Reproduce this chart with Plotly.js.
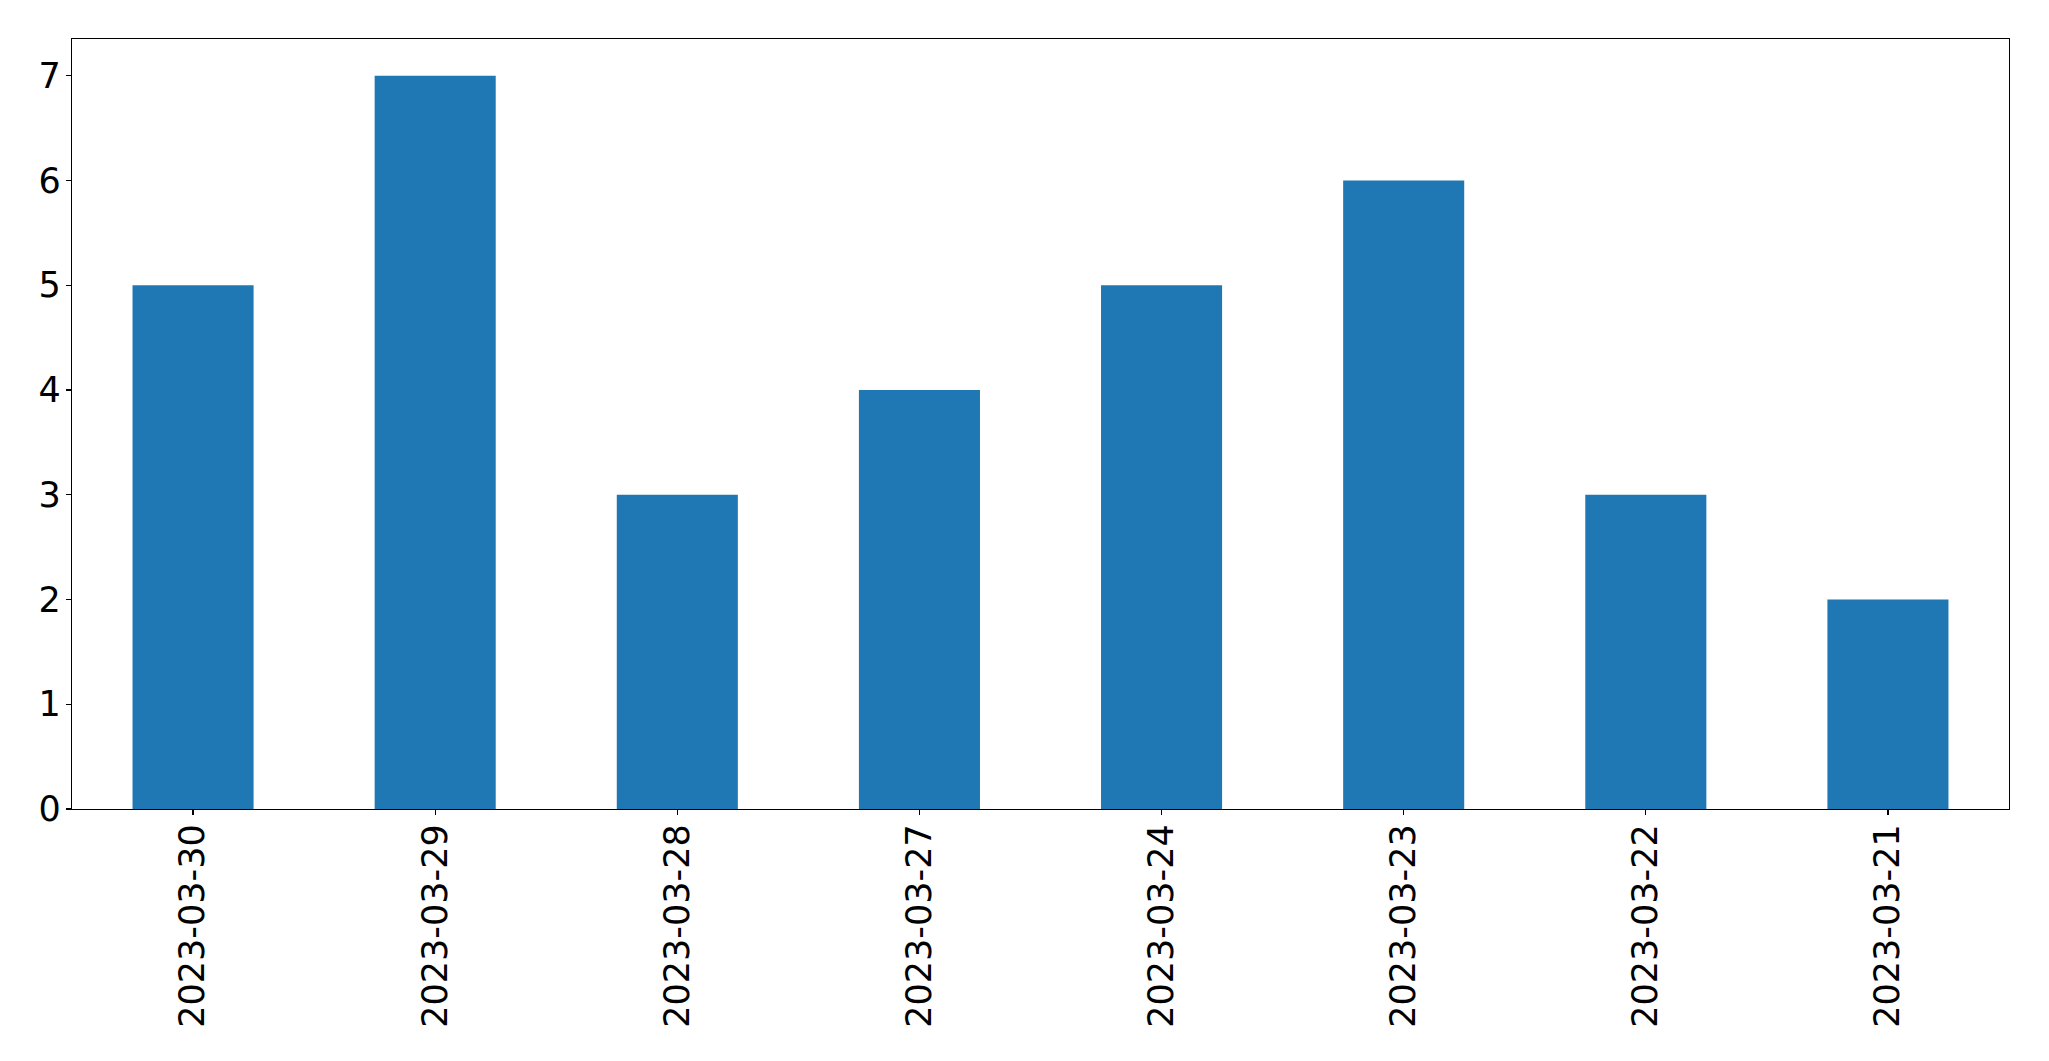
<!DOCTYPE html>
<html>
<head>
<meta charset="utf-8">
<script src="https://cdn.plot.ly/plotly-3.0.1.min.js"></script>
<style>html,body{margin:0;padding:0;background:#fff;}#chart{width:2049px;height:1061px;}</style>
</head>
<body>
<div id="chart"></div>
<script>
const categories = ["2023-03-30","2023-03-29","2023-03-28","2023-03-27","2023-03-24","2023-03-23","2023-03-22","2023-03-21"];
const values = [5, 7, 3, 4, 5, 6, 3, 2];
const yTicks = [0,1,2,3,4,5,6,7];

const trace = {
  type: 'bar',
  x: categories,
  y: values,
  marker: {color: '#1f77b4', line: {width: 0}},
  hoverinfo: 'x+y'
};

const font = {family: 'DejaVu Sans, sans-serif', size: 35, color: '#000'};

const layout = {
  width: 2049,
  height: 1061,
  margin: {l: 72, r: 40, t: 39, b: 252, pad: 0},
  paper_bgcolor: '#fff',
  plot_bgcolor: '#fff',
  showlegend: false,
  bargap: 0.5,
  font: font,
  xaxis: {
    type: 'category',
    range: [-0.5, 7.5],
    tickangle: -90,
    ticks: 'outside',
    ticklen: 5,
    tickwidth: 1.3,
    tickcolor: '#000',
    showline: true,
    linecolor: '#000',
    linewidth: 1.3,
    mirror: true,
    showgrid: false,
    zeroline: false,
    tickfont: font,
    ticklabelstandoff: -5
  },
  yaxis: {
    range: [0, 7.35],
    tickvals: yTicks,
    ticktext: yTicks.map(String),
    ticks: 'outside',
    ticklen: 5,
    tickwidth: 1.3,
    tickcolor: '#000',
    showline: true,
    linecolor: '#000',
    linewidth: 1.3,
    mirror: true,
    showgrid: false,
    zeroline: false,
    tickfont: font,
    ticklabelstandoff: -2
  }
};

Plotly.newPlot('chart', [trace], layout, {displayModeBar: false, staticPlot: true});
</script>
</body>
</html>
